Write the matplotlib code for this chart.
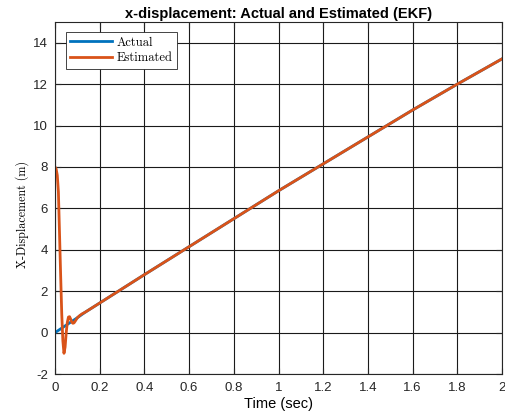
import numpy as np
import matplotlib
matplotlib.use("Agg")
import matplotlib.pyplot as plt

# true x-displacement (m) sampled over time (s)
t_actual = [0.0, 0.1, 0.134, 0.2, 0.4, 0.6, 0.8, 1.0, 1.2, 1.4, 1.6, 1.8, 2.0]
x_actual = [0.0, 0.72, 0.98, 1.43, 2.8, 4.15, 5.5, 6.85, 8.15, 9.45, 10.75, 12.0, 13.22]

# EKF estimate: initial transient, then it tracks the true trajectory
t_est_start = [0.0, 0.005, 0.01, 0.015, 0.02, 0.025, 0.03, 0.035, 0.04, 0.045,
               0.05, 0.055, 0.06, 0.065, 0.07, 0.075, 0.08, 0.085, 0.09, 0.1,
               0.11, 0.12]
x_est_start = [8.0, 7.9, 7.6, 6.8, 4.8, 2.8, 0.9, -0.4, -1.0, -0.7,
               0.0, 0.5, 0.75, 0.77, 0.65, 0.5, 0.45, 0.47, 0.55, 0.72,
               0.82, 0.9]

t_est = t_est_start + t_actual[2:]
x_est = x_est_start + x_actual[2:]

xticks = np.arange(0, 2.01, 0.2)
xtick_labels = ["0", "0.2", "0.4", "0.6", "0.8", "1", "1.2", "1.4", "1.6", "1.8", "2"]
yticks = np.arange(-2, 15, 2)

plt.rcParams["font.family"] = ["Liberation Sans", "DejaVu Sans"]
plt.rcParams["axes.unicode_minus"] = False

fig = plt.figure(figsize=(5.05, 4.2), dpi=100)
ax = fig.add_axes([0.109, 0.1095, 0.885, 0.838])

ax.plot(t_actual, x_actual, color="#0072BD", linewidth=2, label="Actual")
ax.plot(t_est, x_est, color="#D95319", linewidth=2, label="Estimated")

ax.set_xlim(0, 2)
ax.set_ylim(-2, 15)
ax.set_xticks(xticks)
ax.set_xticklabels(xtick_labels)
ax.set_yticks(yticks)
ax.tick_params(direction="in", length=4, labelsize=9.5, colors="#262626",
               top=True, right=True)
ax.tick_params(axis="x", pad=6)
ax.tick_params(axis="y", pad=5)
for s in ax.spines.values():
    s.set_color("#262626")
    s.set_linewidth(0.8)
ax.grid(True, color="#1a1a1a", linewidth=0.8)
ax.set_axisbelow(True)

ax.set_title("x-displacement: Actual and Estimated (EKF)", fontsize=10.5,
             fontweight="bold", pad=3)
ax.set_xlabel("Time (sec)", fontsize=10.5, labelpad=2)
ax.set_ylabel("X-Displacement (m)", fontsize=8.7, family="cmr10")
ax.yaxis.set_label_coords(-0.058, 0.452)

leg = ax.legend(loc="upper left", bbox_to_anchor=(0.0246, 0.9716),
                borderaxespad=0, fancybox=False, framealpha=1,
                edgecolor="#262626", prop={"family": "cmr10", "size": 9},
                handlelength=3.3, borderpad=0.35, labelspacing=0.3,
                handletextpad=0.4)
leg.get_frame().set_linewidth(0.6)

fig.savefig("out.png", dpi=100)
